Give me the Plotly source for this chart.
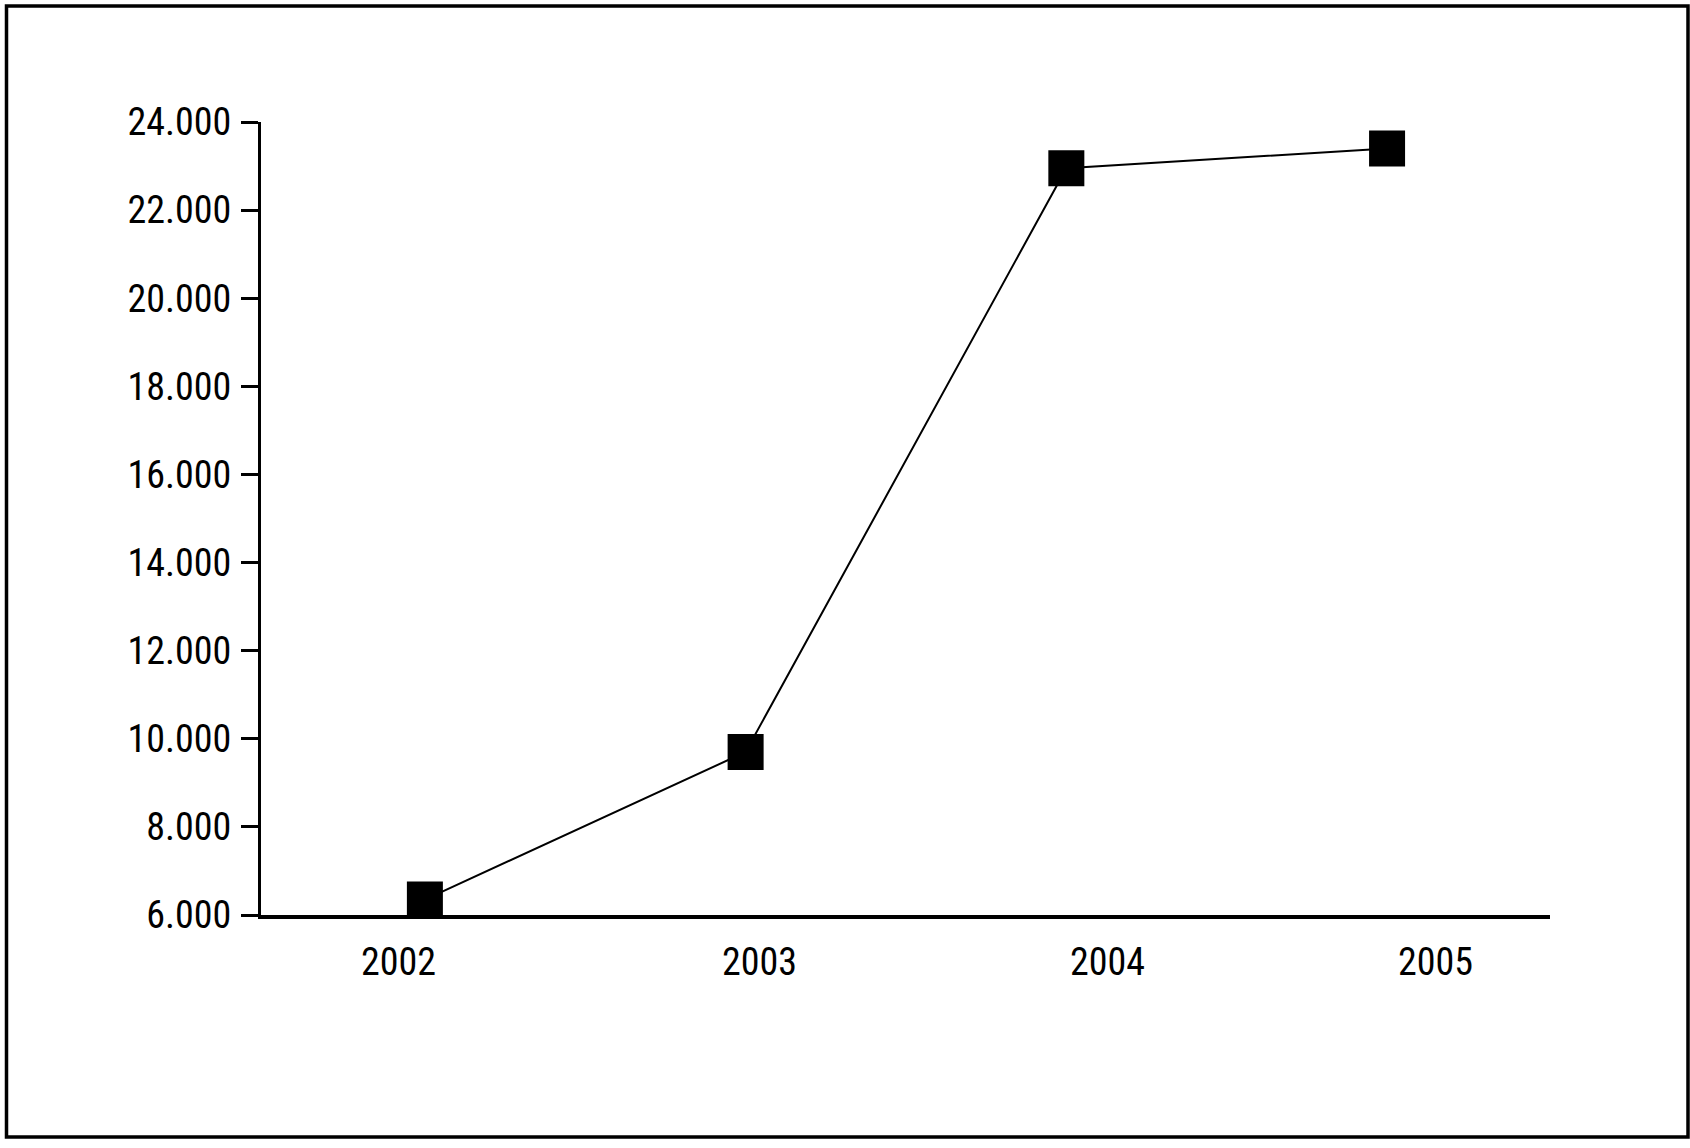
import plotly.graph_objects as go

# data
years = [2002, 2003, 2004, 2005]
values = [6350, 9700, 22950, 23400]
year_labels = ["2002", "2003", "2004", "2005"]
label_shift = [-26, 14, 41, 48]  # labels sit a little off the markers in the original

W, H = 1690, 1148
ml, mr, mt, mb = 261, 140, 122, 233
plot_w = W - ml - mr
plot_h = H - mt - mb
FONT = "Noto Sans Condensed, Roboto Condensed, Liberation Sans Narrow, DejaVu Sans Condensed, sans-serif"


def px_to_paper(px, py):
    return (px - ml) / plot_w, (H - mb - py) / plot_h


fig = go.Figure()
fig.add_trace(go.Scatter(
    x=years, y=values,
    mode="lines+markers",
    line=dict(color="black", width=2),
    marker=dict(symbol="square", size=36, color="black"),
    cliponaxis=False,
    showlegend=False,
))

# year labels
for yr, lab, dx in zip(years, year_labels, label_shift):
    fig.add_annotation(
        x=yr, y=px_to_paper(0, 962)[1], xref="x", yref="paper",
        text=lab, showarrow=False, xshift=dx,
        xanchor="center", yanchor="middle",
        font=dict(size=38, color="black", family=FONT),
    )

# outer frame
x0, y0 = px_to_paper(6.5, 6)
x1, y1 = px_to_paper(1688, 1137)
fig.add_shape(type="rect", xref="paper", yref="paper",
              x0=x0, y0=y1, x1=x1, y1=y0,
              line=dict(color="black", width=3.5), layer="above")

fig.update_xaxes(
    range=[2001.489, 2005.508],
    showline=True, linecolor="black", linewidth=4,
    showticklabels=False, ticks="", showgrid=False, zeroline=False,
)
fig.update_yaxes(
    range=[6000, 24000], dtick=2000, tick0=6000, tickformat=",",
    showline=True, linecolor="black", linewidth=3,
    ticks="outside", ticklen=17, tickwidth=3, tickcolor="black",
    ticklabelstandoff=2,
    showgrid=False, zeroline=False,
    tickfont=dict(size=38, color="black", family=FONT),
)
fig.update_layout(
    width=W, height=H,
    margin=dict(l=ml, r=mr, t=mt, b=mb),
    plot_bgcolor="white", paper_bgcolor="white",
    separators=",.",
    font=dict(family=FONT, color="black"),
)

# drop the page's default body margin so the figure sits at the window's corner
fig.write_html("out.html", config={"displayModeBar": False},
               post_script="document.body.style.margin = '0';")
